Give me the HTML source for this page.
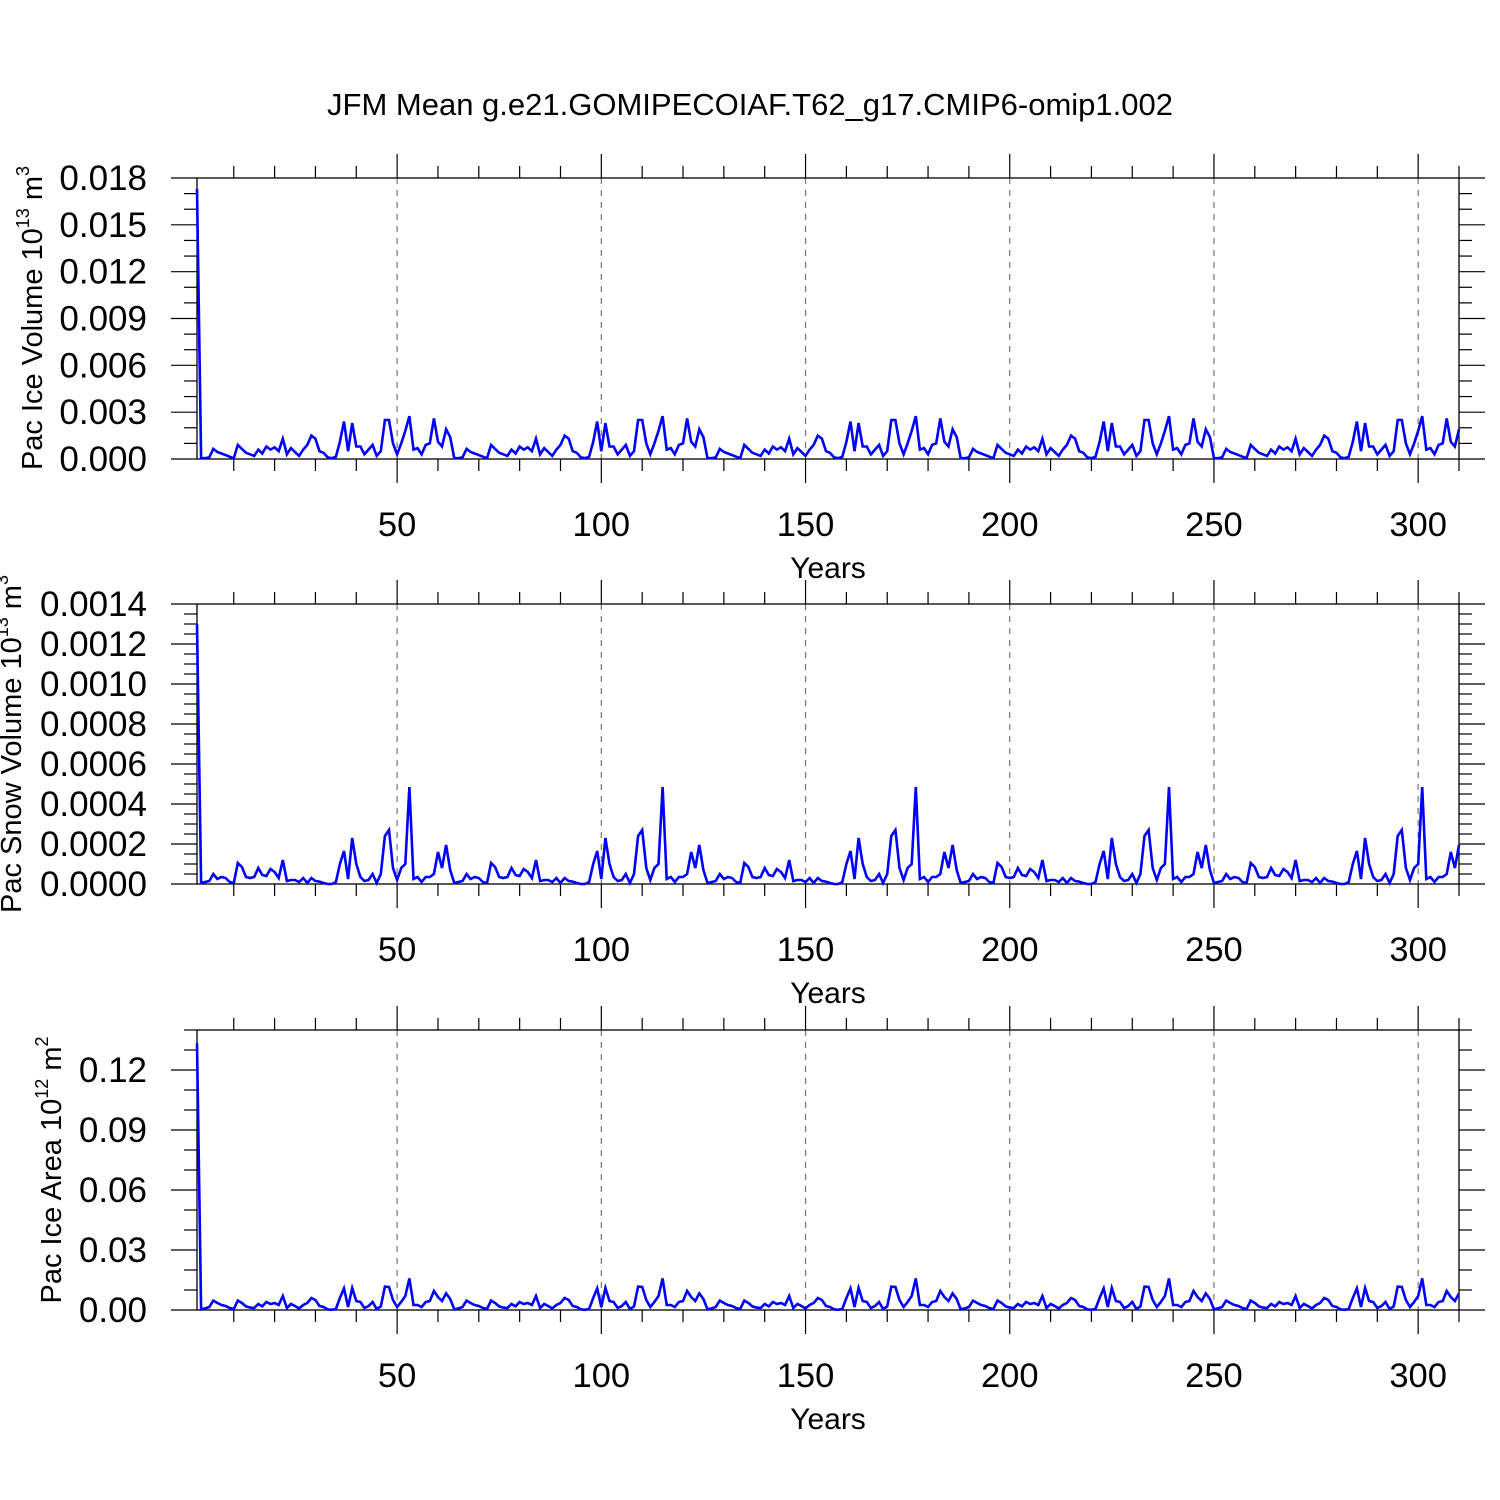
<!DOCTYPE html>
<html><head><meta charset="utf-8"><style>
html,body{margin:0;padding:0;background:#fff;}
svg{display:block;font-family:"Liberation Sans",sans-serif;}
</style></head><body>
<svg id="chart" width="1500" height="1500" viewBox="0 0 1500 1500">
<text x="750" y="115" text-anchor="middle" font-size="31">JFM Mean g.e21.GOMIPECOIAF.T62_g17.CMIP6-omip1.002</text>
</svg>
<script>
// years 1..310
const iceVolume = [17.3,0.05,0.05,0.1,0.65,0.45,0.35,0.25,0.15,0.05,0.9,0.65,0.4,0.3,0.2,0.6,0.35,0.8,0.6,0.75,0.5,1.3,0.3,0.7,0.45,0.2,0.6,0.9,1.5,1.3,0.5,0.4,0.1,0.05,0.15,1.1,2.4,0.5,2.3,0.8,0.8,0.3,0.6,0.9,0.2,0.5,2.5,2.5,1.0,0.3,1.0,1.8,2.75,0.6,0.7,0.3,0.9,1.0,2.6,1.1,0.8,1.9,
1.4,0.05,0.05,0.1,0.65,0.45,0.35,0.25,0.15,0.05,0.9,0.65,0.4,0.3,0.2,0.6,0.35,0.8,0.6,0.75,0.5,1.3,0.3,0.7,0.45,0.2,0.6,0.9,1.5,1.3,0.5,0.4,0.1,0.05,0.15,1.1,2.4,0.5,2.3,0.8,0.8,0.3,0.6,0.9,0.2,0.5,2.5,2.5,1.0,0.3,1.0,1.8,2.75,0.6,0.7,0.3,0.9,1.0,2.6,1.1,0.8,1.9,
1.4,0.05,0.05,0.1,0.65,0.45,0.35,0.25,0.15,0.05,0.9,0.65,0.4,0.3,0.2,0.6,0.35,0.8,0.6,0.75,0.5,1.3,0.3,0.7,0.45,0.2,0.6,0.9,1.5,1.3,0.5,0.4,0.1,0.05,0.15,1.1,2.4,0.5,2.3,0.8,0.8,0.3,0.6,0.9,0.2,0.5,2.5,2.5,1.0,0.3,1.0,1.8,2.75,0.6,0.7,0.3,0.9,1.0,2.6,1.1,0.8,1.9,
1.4,0.05,0.05,0.1,0.65,0.45,0.35,0.25,0.15,0.05,0.9,0.65,0.4,0.3,0.2,0.6,0.35,0.8,0.6,0.75,0.5,1.3,0.3,0.7,0.45,0.2,0.6,0.9,1.5,1.3,0.5,0.4,0.1,0.05,0.15,1.1,2.4,0.5,2.3,0.8,0.8,0.3,0.6,0.9,0.2,0.5,2.5,2.5,1.0,0.3,1.0,1.8,2.75,0.6,0.7,0.3,0.9,1.0,2.6,1.1,0.8,1.9,
1.4,0.05,0.05,0.1,0.65,0.45,0.35,0.25,0.15,0.05,0.9,0.65,0.4,0.3,0.2,0.6,0.35,0.8,0.6,0.75,0.5,1.3,0.3,0.7,0.45,0.2,0.6,0.9,1.5,1.3,0.5,0.4,0.1,0.05,0.15,1.1,2.4,0.5,2.3,0.8,0.8,0.3,0.6,0.9,0.2,0.5,2.5,2.5,1.0,0.3,1.0,1.8,2.75,0.6,0.7,0.3,0.9,1.0,2.6,1.1,0.8,1.9];
const snowVolume = [13.0,0.05,0.1,0.15,0.5,0.25,0.35,0.3,0.1,0.05,1.05,0.85,0.35,0.3,0.35,0.8,0.45,0.4,0.75,0.6,0.3,1.2,0.15,0.2,0.2,0.1,0.3,0.05,0.3,0.15,0.12,0.05,0,0,0.1,1.0,1.65,0.25,2.3,1.0,0.35,0.15,0.2,0.5,0.05,0.5,2.4,2.7,0.8,0.2,0.8,1.0,4.85,0.25,0.35,0.1,0.35,0.35,0.5,1.6,0.8,1.95,
0.7,0.05,0.1,0.15,0.5,0.25,0.35,0.3,0.1,0.05,1.05,0.85,0.35,0.3,0.35,0.8,0.45,0.4,0.75,0.6,0.3,1.2,0.15,0.2,0.2,0.1,0.3,0.05,0.3,0.15,0.12,0.05,0,0,0.1,1.0,1.65,0.25,2.3,1.0,0.35,0.15,0.2,0.5,0.05,0.5,2.4,2.7,0.8,0.2,0.8,1.0,4.85,0.25,0.35,0.1,0.35,0.35,0.5,1.6,0.8,1.95,
0.7,0.05,0.1,0.15,0.5,0.25,0.35,0.3,0.1,0.05,1.05,0.85,0.35,0.3,0.35,0.8,0.45,0.4,0.75,0.6,0.3,1.2,0.15,0.2,0.2,0.1,0.3,0.05,0.3,0.15,0.12,0.05,0,0,0.1,1.0,1.65,0.25,2.3,1.0,0.35,0.15,0.2,0.5,0.05,0.5,2.4,2.7,0.8,0.2,0.8,1.0,4.85,0.25,0.35,0.1,0.35,0.35,0.5,1.6,0.8,1.95,
0.7,0.05,0.1,0.15,0.5,0.25,0.35,0.3,0.1,0.05,1.05,0.85,0.35,0.3,0.35,0.8,0.45,0.4,0.75,0.6,0.3,1.2,0.15,0.2,0.2,0.1,0.3,0.05,0.3,0.15,0.12,0.05,0,0,0.1,1.0,1.65,0.25,2.3,1.0,0.35,0.15,0.2,0.5,0.05,0.5,2.4,2.7,0.8,0.2,0.8,1.0,4.85,0.25,0.35,0.1,0.35,0.35,0.5,1.6,0.8,1.95,
0.7,0.05,0.1,0.15,0.5,0.25,0.35,0.3,0.1,0.05,1.05,0.85,0.35,0.3,0.35,0.8,0.45,0.4,0.75,0.6,0.3,1.2,0.15,0.2,0.2,0.1,0.3,0.05,0.3,0.15,0.12,0.05,0,0,0.1,1.0,1.65,0.25,2.3,1.0,0.35,0.15,0.2,0.5,0.05,0.5,2.4,2.7,0.8,0.2,0.8,1.0,4.85,0.25,0.35,0.1,0.35,0.35,0.5,1.6,0.8,1.95];
const iceArea = [133.5,0.3,0.8,1.5,4.7,3.5,2.5,2,1,0.5,4.7,3.5,1.8,1.2,1,3,1.8,4,3,3.5,2.5,7,1,3,2,0.8,2.5,3.5,6,5,2,1.5,0.3,0.1,0.5,6,10.8,1.5,11,4.5,4,1,2,4,0.5,1.8,11.7,11.5,5,1.5,4,7,15.8,2.5,2.5,1.5,4,4.5,9.5,6.5,4.5,8.3,
5.5,0.3,0.8,1.5,4.7,3.5,2.5,2,1,0.5,4.7,3.5,1.8,1.2,1,3,1.8,4,3,3.5,2.5,7,1,3,2,0.8,2.5,3.5,6,5,2,1.5,0.3,0.1,0.5,6,10.8,1.5,11,4.5,4,1,2,4,0.5,1.8,11.7,11.5,5,1.5,4,7,15.8,2.5,2.5,1.5,4,4.5,9.5,6.5,4.5,8.3,
5.5,0.3,0.8,1.5,4.7,3.5,2.5,2,1,0.5,4.7,3.5,1.8,1.2,1,3,1.8,4,3,3.5,2.5,7,1,3,2,0.8,2.5,3.5,6,5,2,1.5,0.3,0.1,0.5,6,10.8,1.5,11,4.5,4,1,2,4,0.5,1.8,11.7,11.5,5,1.5,4,7,15.8,2.5,2.5,1.5,4,4.5,9.5,6.5,4.5,8.3,
5.5,0.3,0.8,1.5,4.7,3.5,2.5,2,1,0.5,4.7,3.5,1.8,1.2,1,3,1.8,4,3,3.5,2.5,7,1,3,2,0.8,2.5,3.5,6,5,2,1.5,0.3,0.1,0.5,6,10.8,1.5,11,4.5,4,1,2,4,0.5,1.8,11.7,11.5,5,1.5,4,7,15.8,2.5,2.5,1.5,4,4.5,9.5,6.5,4.5,8.3,
5.5,0.3,0.8,1.5,4.7,3.5,2.5,2,1,0.5,4.7,3.5,1.8,1.2,1,3,1.8,4,3,3.5,2.5,7,1,3,2,0.8,2.5,3.5,6,5,2,1.5,0.3,0.1,0.5,6,10.8,1.5,11,4.5,4,1,2,4,0.5,1.8,11.7,11.5,5,1.5,4,7,15.8,2.5,2.5,1.5,4,4.5,9.5,6.5,4.5,8.3];
const xTickYears = [50,100,150,200,250,300];
const xTickLabels = ["50","100","150","200","250","300"];
const iceVolTicks = [0,3,6,9,12,15,18];
const iceVolLabels = ["0.000","0.003","0.006","0.009","0.012","0.015","0.018"];
const snowTicks = [0,2,4,6,8,10,12,14];
const snowLabels = ["0.0000","0.0002","0.0004","0.0006","0.0008","0.0010","0.0012","0.0014"];
const areaTicks = [0,30,60,90,120];
const areaLabels = ["0.00","0.03","0.06","0.09","0.12"];

const NS="http://www.w3.org/2000/svg";
const svg=document.getElementById('chart');
function mk(tag,attrs,parent){const e=document.createElementNS(NS,tag);for(const k in attrs)e.setAttribute(k,attrs[k]);(parent||svg).appendChild(e);return e;}
const X0=197,X1=1459,YR0=1,YR1=310;
function xs(yr){return X0+(yr-YR0)*(X1-X0)/(YR1-YR0);}

function panel(o){
  const g=mk('g',{});
  
  
  const top=o.top,bot=o.bot;
  const ys=v=>bot-(v-o.ymin)*(bot-top)/(o.ymax-o.ymin);
  xTickYears.forEach(yr=>{
    const l=mk('line',{x1:xs(yr),x2:xs(yr),y1:top,y2:bot,stroke:'#777','stroke-width':1.2,'stroke-dasharray':'6,6'},g);
    
    
  });
  const fr=mk('rect',{x:X0,y:top,width:X1-X0,height:bot-top,fill:'none',stroke:'#000','stroke-width':1.3},g);
  
  
  for(let yr=10;yr<=310;yr+=10){
    const major=yr%50===0; const L=major?24:12;
    mk('line',{x1:xs(yr),x2:xs(yr),y1:bot,y2:bot+L,stroke:'#000','stroke-width':1.2},g);
    mk('line',{x1:xs(yr),x2:xs(yr),y1:top,y2:top-L,stroke:'#000','stroke-width':1.2},g);
  }
  for(let v=o.ymin;v<=o.ymax+1e-9;v+=o.minor){
    const vv=Math.round(v*1000)/1000;
    const major=o.ticks.some(t=>Math.abs(t-vv)<1e-6); const L=major?26:13;
    mk('line',{x1:X0,x2:X0-L,y1:ys(vv),y2:ys(vv),stroke:'#000','stroke-width':1.2},g);
    mk('line',{x1:X1,x2:X1+L,y1:ys(vv),y2:ys(vv),stroke:'#000','stroke-width':1.2},g);
  }
  o.ticks.forEach((t,i)=>{
    const tx=mk('text',{x:147,y:ys(t)+12,'text-anchor':'end','font-size':35},g);
    tx.textContent=o.labels[i];
    
    
  });
  xTickYears.forEach((yr,i)=>{
    const tx=mk('text',{x:xs(yr),y:bot+77,'text-anchor':'middle','font-size':34.5},g);
    tx.textContent=xTickLabels[i];
    
    
  });
  const xt=mk('text',{x:828,y:bot+119,'text-anchor':'middle','font-size':30},g);
  xt.textContent='Years';
  
  
  const yt=mk('text',{x:0,y:0,'text-anchor':'middle','font-size':29,transform:`translate(${o.lx},${o.ly}) rotate(-90)`},g);
  yt.innerHTML=o.title;
  
  
  const pts=o.data.map((v,i)=>xs(i+1).toFixed(1)+','+ys(v).toFixed(1)).join(' ');
  const pl=mk('polyline',{points:pts,fill:'none',stroke:'#0000ff','stroke-width':2.6,'stroke-linejoin':'miter'},g);
  
  
}
panel({name:'ice-volume-panel',series:'ice-volume-line',top:178,bot:459,ymin:0,ymax:18,minor:1,ticks:iceVolTicks,labels:iceVolLabels,data:iceVolume,lx:42,ly:318,
 title:'Pac Ice Volume 10<tspan dy="-13" font-size="18">13</tspan><tspan dy="13"> m</tspan><tspan dy="-13" font-size="18">3</tspan>'});
panel({name:'snow-volume-panel',series:'snow-volume-line',top:604,bot:884,ymin:0,ymax:14,minor:0.5,ticks:snowTicks,labels:snowLabels,data:snowVolume,lx:21,ly:744,
 title:'Pac Snow Volume 10<tspan dy="-13" font-size="18">13</tspan><tspan dy="13"> m</tspan><tspan dy="-13" font-size="18">3</tspan>'});
panel({name:'ice-area-panel',series:'ice-area-line',top:1030,bot:1310,ymin:0,ymax:140,minor:10,ticks:areaTicks,labels:areaLabels,data:iceArea,lx:61,ly:1170,
 title:'Pac Ice Area 10<tspan dy="-13" font-size="18">12</tspan><tspan dy="13"> m</tspan><tspan dy="-13" font-size="18">2</tspan>'});
</script>
</body></html>
